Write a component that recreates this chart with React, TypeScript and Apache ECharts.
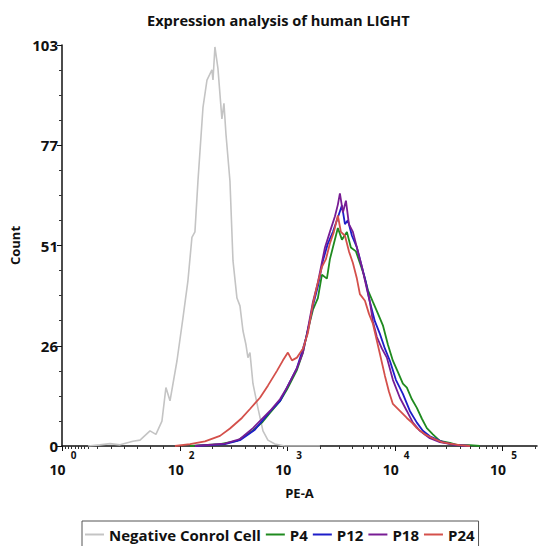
import { useEffect, useRef } from "react";
import * as echarts from "echarts";

const titleText = "Expression analysis of human LIGHT";
const xAxisName = "PE-A";
const yAxisName = "Count";
const seriesNames = ["Negative Conrol Cell", "P4", "P12", "P18", "P24"];
const seriesColors = ["#c4c4c4", "#1f8a1f", "#1d1dc9", "#781c94", "#d4504b"];

const yTickValues = [0, 25.75, 51.5, 77.25, 103];
const yTickLabels = ["0", "26", "51", "77", "103"];
// x axis in display decades (biexponential-like scale): 10^0, 10^2, 10^3, 10^4, 10^5
const xMajorTicks = [0, 1.1, 2.1, 3.1, 4.1];
const xBaseLabel = "10";
const xExponents = ["0", "2", "3", "4", "5"];
const xLowMinorTicks = [0.03, 0.06, 0.09, 0.12, 0.15, 0.18, 0.21, 0.24, 0.33, 0.46, 0.58, 0.7, 0.82, 0.94];

// [display position, count]
const negativeControl: [number, number][] = [
  [0.242, 0], [0.353, 0.3], [0.447, 0.6], [0.54, 0.3], [0.66, 1.2], [0.726, 1.5],
  [0.819, 3.9], [0.874, 3.0], [0.93, 6.4], [0.967, 15], [1.005, 11.6], [1.07, 21.9],
  [1.126, 33], [1.172, 42.5], [1.209, 53.6], [1.237, 55], [1.265, 68], [1.312, 87],
  [1.349, 94], [1.395, 96.6], [1.405, 94], [1.423, 102.5], [1.451, 97], [1.488, 84],
  [1.507, 88], [1.526, 80], [1.563, 68], [1.591, 47.6], [1.628, 38], [1.656, 36],
  [1.684, 29.6], [1.712, 26], [1.73, 22.7], [1.749, 24], [1.777, 16], [1.823, 9.8],
  [1.87, 3.9], [1.916, 1.5], [1.981, 0.5], [2.074, 0], [2.4, 0],
];

const p4: [number, number][] = [
  [1.191, 0], [1.47, 0.5], [1.628, 1.3], [1.777, 4.0], [1.86, 6], [1.935, 8.5],
  [2.028, 11.5], [2.093, 14.5], [2.186, 19.5], [2.242, 24], [2.279, 28.8], [2.335, 35],
  [2.381, 38], [2.419, 44], [2.465, 43], [2.493, 48], [2.53, 52], [2.567, 56],
  [2.605, 53], [2.651, 55], [2.688, 51], [2.735, 50], [2.772, 47], [2.809, 44],
  [2.847, 40], [2.893, 37], [2.94, 34], [2.986, 31], [3.033, 26], [3.079, 21.9],
  [3.126, 19], [3.172, 16], [3.209, 15], [3.256, 12], [3.302, 9.8], [3.349, 7],
  [3.395, 4.6], [3.451, 3], [3.516, 1.3], [3.609, 0.8], [3.674, 0.3], [3.795, 0.2], [3.888, 0],
];

const p12: [number, number][] = [
  [1.237, 0], [1.516, 0.5], [1.656, 1.5], [1.795, 4.2], [1.935, 8.8], [2.028, 11.5],
  [2.093, 15], [2.186, 20], [2.242, 25], [2.279, 28.5], [2.335, 36], [2.381, 41],
  [2.428, 47.6], [2.474, 52], [2.521, 55], [2.558, 58], [2.605, 61.8], [2.633, 57],
  [2.66, 58], [2.698, 54], [2.744, 51], [2.791, 46], [2.828, 42], [2.865, 37],
  [2.912, 32], [2.958, 28.8], [3.005, 25], [3.051, 21.9], [3.107, 17], [3.172, 13.4],
  [3.237, 9], [3.302, 6], [3.358, 3.9], [3.423, 2.5], [3.544, 1], [3.656, 0.3], [3.795, 0],
];

const p18: [number, number][] = [
  [1.237, 0], [1.516, 0.6], [1.656, 1.8], [1.777, 4.6], [1.935, 9], [2.028, 12],
  [2.093, 15], [2.186, 20], [2.242, 24], [2.279, 28.8], [2.335, 37], [2.381, 42],
  [2.447, 51], [2.493, 55], [2.54, 59], [2.567, 62], [2.586, 64.9], [2.614, 60],
  [2.642, 63], [2.67, 57], [2.707, 55], [2.753, 50], [2.791, 46], [2.819, 42.5],
  [2.865, 37], [2.893, 32], [2.93, 28], [2.977, 25], [3.023, 22.7], [3.079, 17],
  [3.144, 12.4], [3.209, 9], [3.265, 6], [3.33, 3.9], [3.423, 2], [3.516, 1], [3.656, 0.3], [3.795, 0],
];

const p24: [number, number][] = [
  [1.051, 0], [1.191, 0.5], [1.33, 1.2], [1.47, 2.6], [1.563, 4.5], [1.674, 7.2],
  [1.749, 9.5], [1.842, 12.4], [1.916, 15.5], [2.0, 19.3], [2.056, 22], [2.102, 24],
  [2.14, 22], [2.186, 22.7], [2.242, 25], [2.288, 29], [2.335, 36.5], [2.381, 42],
  [2.419, 46], [2.456, 48], [2.493, 52], [2.53, 55], [2.567, 59.2], [2.595, 55],
  [2.633, 54], [2.67, 50], [2.707, 47], [2.744, 43], [2.772, 39], [2.819, 37.3],
  [2.856, 34], [2.893, 31.4], [2.93, 27], [2.958, 23.7], [3.005, 18], [3.042, 14],
  [3.079, 10.8], [3.144, 9], [3.209, 7.2], [3.256, 6], [3.302, 4.6], [3.377, 3],
  [3.451, 2], [3.535, 1], [3.609, 0.6], [3.702, 0.2], [3.795, 0],
];

const seriesData = [negativeControl, p4, p12, p18, p24];

const FONT = "'Open Sans', Lato, sans-serif";

function labelFor(values: number[], labels: string[], v: number): string {
  const i = values.findIndex((t) => Math.abs(t - v) < 1e-6);
  return i >= 0 ? labels[i] : "";
}

export default function App() {
  const ref = useRef<HTMLDivElement>(null);

  useEffect(() => {
    document.body.style.margin = "0";
    if (!ref.current) return;
    const chart = echarts.init(ref.current, undefined, { renderer: "svg" });

    const logMinor: number[] = [];
    for (let d = 1; d < xMajorTicks.length; d++) {
      for (let k = 2; k <= 9; k++) {
        const v = xMajorTicks[d] + Math.log10(k);
        if (v < 4.42) logMinor.push(v);
      }
    }
    const allTicks = [...xLowMinorTicks, ...logMinor];

    chart.setOption({
      animation: false,
      backgroundColor: "#ffffff",
      title: {
        text: titleText,
        left: 142,
        top: 7,
        textStyle: { fontFamily: FONT, fontWeight: "bold", fontSize: 14.6, color: "#111" },
      },
      legend: {
        data: seriesNames,
        left: 82,
        top: 521,
        padding: [6, 4, 10, 3],
        borderColor: "#555",
        borderWidth: 1,
        itemGap: 5,
        itemWidth: 19,
        itemHeight: 2,
        icon: "rect",
        textStyle: { fontFamily: FONT, fontWeight: "bold", fontSize: 15, color: "#111" },
      },
      grid: { left: 62, top: 45, right: 1, bottom: 100, containLabel: false },
      xAxis: [
        {
          type: "value",
          min: 0,
          max: 4.42,
          position: "bottom",
          name: xAxisName,
          nameLocation: "middle",
          nameGap: 40,
          nameTextStyle: { fontFamily: FONT, fontWeight: "bold", fontSize: 13, color: "#111" },
          axisLine: { show: true, onZero: false, lineStyle: { color: "#111", width: 1.5 } },
          axisTick: { show: true, customValues: allTicks, length: 3, lineStyle: { color: "#333", width: 1 } },
          axisLabel: {
            customValues: xMajorTicks,
            formatter: (v: number) =>
              `{sp| }{e|${labelFor(xMajorTicks, xExponents, v)}}\n{b|${xBaseLabel}}{sp2| }`,
            margin: 3,
            rich: {
              sp: { width: 23, fontSize: 10, lineHeight: 12 },
              e: { fontFamily: FONT, fontWeight: "bold", fontSize: 10, color: "#111", lineHeight: 12 },
              b: { fontFamily: FONT, fontWeight: "bold", fontSize: 14, color: "#111", lineHeight: 16 },
              sp2: { width: 9, fontSize: 14, lineHeight: 16 },
            },
          },
          splitLine: { show: false },
        },
        {
          type: "value",
          min: 0,
          max: 4.42,
          position: "bottom",
          offset: 0,
          axisLine: { show: false, onZero: false },
          axisTick: { show: true, customValues: xMajorTicks, length: 5, lineStyle: { color: "#111", width: 1 } },
          axisLabel: { show: false },
          splitLine: { show: false },
        },
      ],
      yAxis: {
        type: "value",
        min: 0,
        max: 103,
        interval: 25.75,
        name: yAxisName,
        nameLocation: "middle",
        nameGap: 37,
        nameTextStyle: { fontFamily: FONT, fontWeight: "bold", fontSize: 13, color: "#111" },
        axisLine: { show: true, lineStyle: { color: "#111", width: 1.5 } },
        axisTick: { show: true, length: 5, lineStyle: { color: "#111", width: 1 } },
        minorTick: { show: true, splitNumber: 4, length: 3, lineStyle: { color: "#333", width: 1 } },
        axisLabel: {
          formatter: (v: number) => labelFor(yTickValues, yTickLabels, v),
          fontFamily: FONT,
          fontWeight: "bold",
          fontSize: 15,
          color: "#111",
          margin: 4,
        },
        splitLine: { show: false },
        minorSplitLine: { show: false },
      },
      series: seriesNames.map((name, i) => ({
        name,
        type: "line",
        xAxisIndex: 0,
        yAxisIndex: 0,
        data: seriesData[i],
        symbol: "none",
        showSymbol: false,
        color: seriesColors[i],
        lineStyle: { color: seriesColors[i], width: i === 0 ? 1.6 : 1.8 },
        z: 2 + i,
      })),
    });

    return () => chart.dispose();
  }, []);

  return <div ref={ref} style={{ width: 538, height: 546 }} />;
}
